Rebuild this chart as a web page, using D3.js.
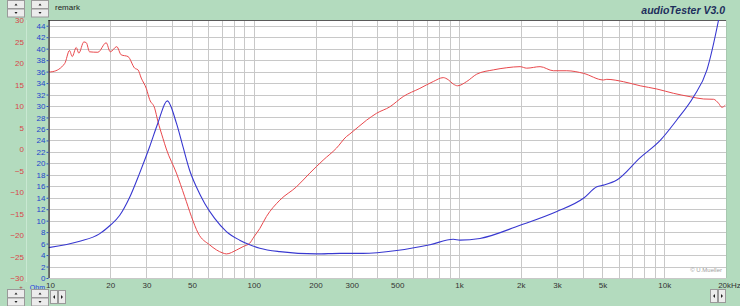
<!DOCTYPE html>
<html><head><meta charset="utf-8">
<script src="https://cdn.jsdelivr.net/npm/d3@7"></script>
<style>
html,body{margin:0;padding:0;background:#B3DBBE;}
svg{display:block;font-family:Arial,"Liberation Sans",sans-serif;}
</style></head>
<body>
<svg id="chart" width="740" height="306"></svg>
<script>
// ---- data ----
const freqImp = [10, 14.2, 17.7, 20, 22.2, 24.8, 27.8, 31.1, 34.1, 37.9, 42.0, 45.2, 48.7, 52.5, 57.7, 64.5, 73.6, 85.4, 95.6, 107, 134, 202, 263, 340, 497, 722, 938, 1011, 1265, 1985, 2998, 4040, 4697, 5060, 5878, 7638, 9560, 11530, 13900, 16150, 18400, 20000];
const impedance = [5.3, 6.4, 7.7, 9.2, 10.9, 14.0, 18.3, 22.9, 27, 30.9, 27, 22.9, 18.8, 15.9, 13, 10.4, 8.1, 6.6, 5.8, 5.2, 4.6, 4.2, 4.3, 4.3, 4.8, 5.8, 6.75, 6.6, 6.9, 9.2, 11.6, 13.9, 15.9, 16.2, 17.1, 21, 24, 27.6, 31.6, 36.3, 45, 52];

const freqSpl = [10, 10.5, 12.0, 12.66, 13.05, 13.65, 14.05, 14.87, 15.29, 15.85, 17.4, 19.1, 20.0, 21.5, 22.6, 24.4, 26.3, 27.3, 28.3, 30.0, 31.1, 32.9, 34.1, 36.1, 37.5, 42.0, 46.1, 49.7, 53.5, 61.0, 70.8, 73.6, 82.4, 88.7, 95.6, 100, 107, 115.3, 134, 161.5, 187.6, 217.8, 253, 283, 294, 354.5, 396.5, 460, 535, 645, 750, 838, 887, 938, 985, 1091, 1220, 1470, 1710, 1985, 2138, 2484, 2885, 3352, 4040, 5060, 5250, 6331, 7640, 9210, 11100, 13390, 15560, 17400, 18400, 19100, 19850];
const spl = [17.9, 18.0, 19.9, 22.9, 21.5, 23.6, 22.3, 24.9, 24.7, 22.6, 22.5, 24.7, 22.6, 23.8, 21.9, 21.5, 18.8, 18.4, 16.5, 14, 11.5, 9.5, 6.5, 2.5, 0, -5.6, -11.1, -15.7, -19.5, -22.3, -24.2, -24.4, -23.5, -22.7, -21.9, -20.5, -18.5, -15.7, -11.9, -8.8, -5.6, -2.6, 0.2, 2.9, 3.5, 6.7, 8.3, 9.8, 12.2, 14.1, 15.7, 16.6, 16.1, 15.1, 14.7, 15.7, 17.4, 18.4, 18.9, 19.15, 18.8, 19.15, 18.2, 18.2, 17.6, 16.05, 16.2, 15.65, 14.7, 13.95, 12.95, 12.16, 11.63, 11.56, 10.63, 9.7, 10.2];

const xTicks = [10, 20, 30, 50, 100, 200, 300, 500, 1000, 2000, 3000, 5000, 10000, 20000];
const xTickLabels = ["10", "20", "30", "50", "100", "200", "300", "500", "1k", "2k", "3k", "5k", "10k", "20kHz"];
const ohmTicks = d3.range(0, 45, 2);
const dbTicks = d3.range(-30, 31, 5);
const xGrid = [];
[10, 100, 1000, 10000].forEach(d => { for (let m = 1; m <= 9; m++) { if (d * m <= 20000) xGrid.push(d * m); } });
xGrid.push(20000);

// ---- layout ----
const L = 48.5, R = 726, T = 20, B = 278;
const svg = d3.select("#chart");
const x = d3.scaleLog().domain([10, 20000]).range([L, R]);
const yOhm = d3.scaleLinear().domain([0, 45]).range([B, T]);
const yDb = d3.scaleLinear().domain([-30, 30]).range([B, T]);

// plot background
svg.append("rect").attr("x", L).attr("y", T).attr("width", R - L).attr("height", B - T).attr("fill", "#ffffff");

// separator line in the left panel
svg.append("line").attr("x1", 26.5).attr("x2", 26.5).attr("y1", 20).attr("y2", 282)
  .attr("stroke", "#C9E8D2").attr("stroke-width", 1);

// grid
const grid = svg.append("g").attr("stroke", "#C8C8C8").attr("stroke-width", 1).attr("shape-rendering", "crispEdges");
grid.selectAll("line.v").data(xGrid).join("line").attr("class", "v")
  .attr("x1", d => Math.round(x(d)) + 0.5).attr("x2", d => Math.round(x(d)) + 0.5)
  .attr("y1", T).attr("y2", B);
grid.selectAll("line.h").data(ohmTicks).join("line").attr("class", "h")
  .attr("x1", L).attr("x2", R)
  .attr("y1", d => Math.round(yOhm(d)) + 0.5).attr("y2", d => Math.round(yOhm(d)) + 0.5);

// borders
svg.append("line").attr("x1", L).attr("x2", R).attr("y1", T + 0.5).attr("y2", T + 0.5)
  .attr("stroke", "#5A5A5A").attr("stroke-width", 1.2);
svg.append("line").attr("x1", R + 0.5).attr("x2", R + 0.5).attr("y1", T).attr("y2", B)
  .attr("stroke", "#A8C8B0").attr("stroke-width", 1);

// clip
svg.append("clipPath").attr("id", "clip").append("rect")
  .attr("x", L).attr("y", T).attr("width", R - L).attr("height", B - T);

// curves
const lineImp = d3.line().x((d, i) => x(freqImp[i])).y(d => yOhm(d)).curve(d3.curveMonotoneX);
const lineSpl = d3.line().x((d, i) => x(freqSpl[i])).y(d => yDb(d)).curve(d3.curveMonotoneX);
svg.append("path").datum(spl).attr("d", lineSpl).attr("fill", "none")
  .attr("stroke", "#E8484C").attr("stroke-width", 1).attr("clip-path", "url(#clip)");
svg.append("path").datum(impedance).attr("d", lineImp).attr("fill", "none")
  .attr("stroke", "#3838D0").attr("stroke-width", 1.1).attr("clip-path", "url(#clip)");

// blue ohm axis
const axOhm = svg.append("g").attr("transform", `translate(${L},0)`)
  .call(d3.axisLeft(yOhm).tickValues(ohmTicks).tickSize(2).tickPadding(1).tickFormat(d3.format("d")));
axOhm.select(".domain").attr("stroke", "#000").attr("d", `M0.5,${T}V${B}`);
axOhm.selectAll(".tick line").attr("stroke", "#3050C0");
axOhm.selectAll(".tick text").attr("fill", "#2244CC").style("font-size", "8px");

// red dB axis
const axDb = svg.append("g").attr("transform", "translate(24,0)")
  .call(d3.axisLeft(yDb).tickValues(dbTicks).tickSize(0).tickPadding(0).tickFormat(d3.format("d")));
axDb.select(".domain").remove();
axDb.selectAll(".tick text").attr("fill", "#D84848").style("font-size", "8px");

// x axis
const axX = svg.append("g").attr("transform", `translate(0,${B})`)
  .call(d3.axisBottom(x).tickValues(xTicks).tickSize(0).tickPadding(4)
    .tickFormat((d, i) => xTickLabels[i]));
axX.select(".domain").remove();
axX.selectAll(".tick text").attr("fill", "#333").style("font-size", "8px");
axX.selectAll(".tick text").filter((d, i) => i === 0).attr("text-anchor", "start").attr("dx", "-3");
axX.selectAll(".tick text").filter((d, i) => i === xTicks.length - 1).attr("text-anchor", "middle").attr("dx", "3");

svg.append("text").attr("x", 45).attr("y", 290).attr("text-anchor", "end")
  .attr("fill", "#1E3EE0").style("font-size", "7px").text("Ohm");
svg.append("text").attr("x", 21).attr("y", 289).attr("text-anchor", "middle")
  .attr("fill", "#B04040").style("font-size", "6px").text("+");

// title texts
svg.append("text").attr("x", 725).attr("y", 14).attr("text-anchor", "end")
  .attr("fill", "#1E2E5C").style("font-size", "10.5px").style("font-style", "italic").style("font-weight", "bold")
  .text("audioTester  V3.0");
svg.append("text").attr("x", 55).attr("y", 10).attr("fill", "#222").style("font-size", "8px").text("remark");
svg.append("text").attr("x", 722).attr("y", 272).attr("text-anchor", "end")
  .attr("fill", "#A0A0A0").style("font-size", "6px").text("© U.Mueller");

// buttons
function spinButton(bx, by) {
  const g = svg.append("g");
  [0, 1].forEach(k => {
    g.append("rect").attr("x", bx + 0.5).attr("y", by + k * 8.5 + 0.5).attr("width", 17).attr("height", 8)
      .attr("fill", "#ECECEC").attr("stroke", "#9A9A9A").attr("stroke-width", 1);
    const cx = bx + 9, cy = by + k * 8.5 + 4.5;
    const pts = k === 0 ? `${cx - 1.5},${cy + 1} ${cx + 1.5},${cy + 1} ${cx},${cy - 1}` : `${cx - 1.5},${cy - 1} ${cx + 1.5},${cy - 1} ${cx},${cy + 1}`;
    g.append("polygon").attr("points", pts).attr("fill", "#222");
  });
}
function arrowButton(bx, by, dir) {
  svg.append("rect").attr("x", bx + 0.5).attr("y", by + 0.5).attr("width", 7).attr("height", 13)
    .attr("fill", "#ECECEC").attr("stroke", "#9A9A9A");
  const cx = bx + 4, cy = by + 7;
  const pts = dir < 0 ? `${cx + 1},${cy - 2} ${cx + 1},${cy + 2} ${cx - 1},${cy}` : `${cx - 1},${cy - 2} ${cx - 1},${cy + 2} ${cx + 1},${cy}`;
  svg.append("polygon").attr("points", pts).attr("fill", "#222");
}
spinButton(7, 0);
spinButton(31, 0);
spinButton(7, 289);
spinButton(31, 289);
arrowButton(50, 290, -1);
arrowButton(58, 290, 1);
arrowButton(710, 289, -1);
arrowButton(718, 289, 1);
</script>
</body></html>
